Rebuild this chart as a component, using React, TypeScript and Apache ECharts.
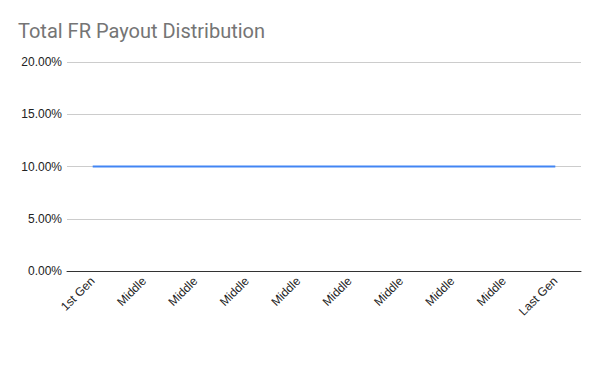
import React, { useEffect, useRef } from "react";
import * as echarts from "echarts";

const categories = ["1st Gen", "Middle", "Middle", "Middle", "Middle", "Middle", "Middle", "Middle", "Middle", "Last Gen"];
const payout = [0.1, 0.1, 0.1, 0.1, 0.1, 0.1, 0.1, 0.1, 0.1, 0.1];
const yTicks = [0, 0.05, 0.1, 0.15, 0.2];

export default function App() {
  const ref = useRef<HTMLDivElement>(null);
  useEffect(() => {
    document.body.style.margin = "0";
    const chart = echarts.init(ref.current!, null, { renderer: "svg" });
    chart.setOption({
      animation: false,
      backgroundColor: "#ffffff",
      title: {
        text: "Total FR Payout Distribution",
        left: 13,
        top: 16,
        textStyle: { fontFamily: "Roboto", fontSize: 20, fontWeight: "normal", color: "#757575" },
      },
      grid: { left: 67, right: 19, top: 62, bottom: 100, containLabel: false },
      xAxis: {
        type: "category",
        data: categories,
        boundaryGap: true,
        axisLine: { lineStyle: { color: "#333333", width: 1 } },
        axisTick: { show: false },
        axisLabel: {
          rotate: 45,
          interval: 0,
          fontFamily: "Arial, Liberation Sans",
          fontSize: 12,
          color: "#222222",
          margin: 8,
        },
      },
      yAxis: {
        type: "value",
        min: yTicks[0],
        max: yTicks[yTicks.length - 1],
        interval: 0.05,
        axisLine: { show: false },
        axisTick: { show: false },
        splitLine: { lineStyle: { color: "#cccccc", width: 1 } },
        axisLabel: {
          formatter: (v: number) => (v * 100).toFixed(2) + "%",
          fontFamily: "Arial, Liberation Sans",
          fontSize: 12,
          color: "#222222",
          margin: 5,
        },
      },
      series: [
        {
          type: "line",
          data: payout,
          showSymbol: false,
          symbol: "none",
          lineStyle: { color: "#4285f4", width: 2 },
        },
      ],
    });
    return () => chart.dispose();
  }, []);
  return <div ref={ref} style={{ width: 600, height: 371 }} />;
}
